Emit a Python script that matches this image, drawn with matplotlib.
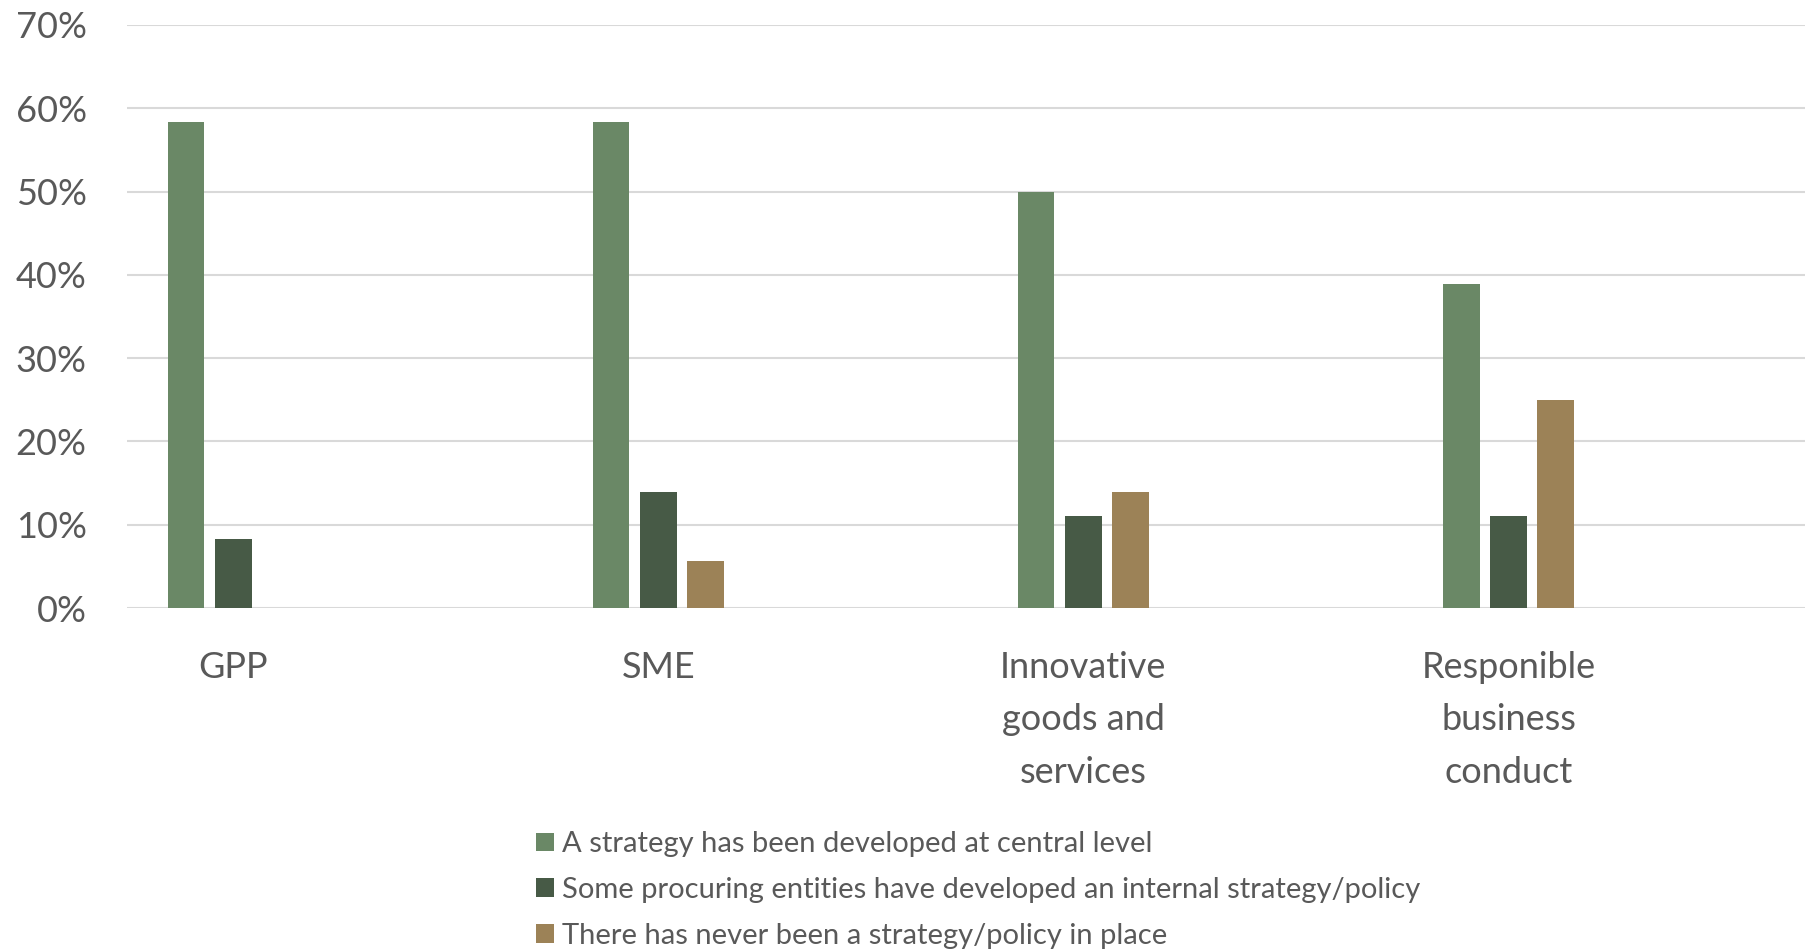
import numpy as np
import matplotlib
matplotlib.use("Agg")
from matplotlib import pyplot as plt
from matplotlib.ticker import PercentFormatter

# dane
kategorie = ["GPP", "SME", "Innovative\ngoods and\nservices", "Responible\nbusiness\nconduct"]
central = [58.3, 58.3, 50.0, 38.9]
internal = [8.3, 13.9, 11.1, 11.1]
never = [0.0, 5.6, 13.9, 25.0]
serie_nazwy = [
    "A strategy has been developed at central level",
    "Some procuring entities have developed an internal strategy/policy",
    "There has never been a strategy/policy in place",
]
kolory = ["#6A8866", "#475A46", "#9C8257"]
y_ticks = [0, 10, 20, 30, 40, 50, 60, 70]

plt.rcParams['font.family'] = ['Lato', 'DejaVu Sans']
szary = "#595959"

fig = plt.figure(figsize=(18.06, 9.49), dpi=100)
ax = fig.add_axes([127 / 1806, 1 - 608 / 949, 1 - 127 / 1806, (608 - 25) / 949])

x = np.arange(len(kategorie))
szer = 0.086
krok = 0.111
for i, (wart, kol, nazwa) in enumerate(zip([central, internal, never], kolory, serie_nazwy)):
    ax.bar(x + (i - 1) * krok, wart, szer, color=kol, label=nazwa, zorder=3)

ax.set_ylim(0, 70)
ax.set_xlim(-0.25, 3.70)
ax.set_yticks(y_ticks)
ax.yaxis.set_major_formatter(PercentFormatter(decimals=0))
ax.set_xticks(x)
ax.set_xticklabels(kategorie, linespacing=1.72)
ax.tick_params(axis='y', length=0, pad=29, labelsize=26, labelcolor=szary)
ax.tick_params(axis='x', length=0, pad=31, labelsize=26, labelcolor=szary)
ax.grid(axis='y', color="#D9D9D9", linewidth=1.5, zorder=0)
for s in ax.spines.values():
    s.set_visible(False)

fig.legend(loc='center left', bbox_to_anchor=(536 / 1806, 1 - 890 / 949),
           frameon=False, fontsize=21, labelcolor=szary,
           handlelength=0.6, handleheight=0.6, handletextpad=0.3,
           labelspacing=0.68, borderpad=0, borderaxespad=0)

fig.savefig("out.png", dpi=100)
